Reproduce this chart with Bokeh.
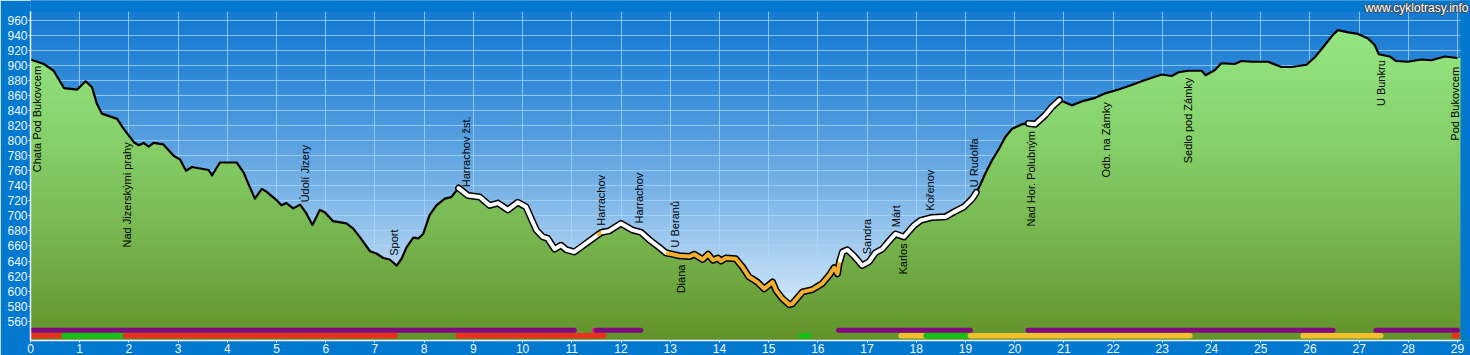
import numpy as np
from bokeh.plotting import figure
from bokeh.models import Range1d, FixedTicker
from bokeh.core.properties import value
from bokeh.embed import file_html
from bokeh.resources import INLINE

# ---------------- data ----------------
dist_km = [0, 0.27, 0.47, 0.57, 0.68, 0.95, 1.12, 1.25, 1.35, 1.45, 1.76, 1.89, 2.10, 2.2, 2.3, 2.4,
           2.5, 2.7, 2.91, 3.04, 3.16, 3.28, 3.45, 3.62, 3.69, 3.85, 4.19, 4.33, 4.4, 4.56, 4.7, 4.8,
           5.0, 5.1, 5.2, 5.34, 5.48, 5.61, 5.73, 5.88, 5.98, 6.15, 6.42, 6.56, 6.69, 6.9, 7.03, 7.17,
           7.3, 7.44, 7.54, 7.64, 7.78, 7.88, 7.98, 8.11, 8.25, 8.42, 8.55, 8.7, 8.89, 9.13, 9.33, 9.5,
           9.7, 9.9, 10.07, 10.28, 10.41, 10.51, 10.65, 10.78, 10.89, 11.05, 11.22, 11.43, 11.6, 11.76,
           12.0, 12.24, 12.41, 12.58, 12.78, 12.91, 13.18, 13.39, 13.49, 13.66, 13.77, 13.87, 13.97,
           14.03, 14.13, 14.33, 14.47, 14.6, 14.77, 14.91, 15.08, 15.15, 15.28, 15.42, 15.48, 15.69,
           15.89, 16.09, 16.23, 16.33, 16.4, 16.43, 16.5, 16.6, 16.73, 16.9, 17.04, 17.17, 17.31,
           17.44, 17.58, 17.75, 17.95, 18.09, 18.32, 18.6, 18.76, 18.97, 19.14, 19.21, 19.3, 19.4,
           19.54, 19.68, 19.81, 19.95, 20.15, 20.28, 20.42, 20.62, 20.76, 20.91, 21.16, 21.4, 21.64,
           21.84, 22.11, 22.38, 22.58, 22.85, 22.99, 23.19, 23.33, 23.53, 23.8, 23.88, 24.07, 24.2,
           24.47, 24.61, 24.81, 25.15, 25.42, 25.63, 25.93, 26.1, 26.3, 26.47, 26.57, 26.78, 26.98,
           27.18, 27.32, 27.4, 27.62, 27.75, 27.99, 28.26, 28.47, 28.74, 29.0]
elev_m = [908, 902, 893, 882, 870, 868, 879, 871, 849, 836, 829, 816, 798, 794, 797, 792,
          797, 795, 780, 775, 760, 765, 763, 761, 754, 771, 771, 758, 747, 723, 736, 732,
          721, 714, 717, 710, 715, 703, 688, 708, 705, 693, 690, 683, 672, 653, 650, 644,
          642, 634, 643, 658, 671, 670, 676, 701, 714, 723, 725, 737, 727, 725, 714, 717,
          708, 718, 712, 681, 672, 670, 656, 661, 655, 652, 660, 670, 678, 680,
          690, 681, 678, 668, 658, 651, 647, 646, 649, 642, 649, 641, 644,
          640, 644, 643, 632, 619, 612, 603, 612, 601, 590, 582, 583, 599,
          602, 610, 621, 631, 623, 636, 652, 655, 647, 634, 639, 651, 656,
          666, 676, 672, 687, 694, 698, 699, 705, 712, 723, 730, 741, 756,
          774, 789, 805, 816, 822, 823, 822, 834, 845, 854, 847, 853, 857,
          863, 868, 874, 879, 885, 888, 886, 891, 893, 893, 887, 894, 903,
          902, 906, 905, 905, 898, 898, 901, 911, 927, 941, 947, 944, 942,
          936, 927, 915, 912, 906, 905, 908, 907, 912, 910]

x_ticks = list(range(0, 30))
y_ticks = list(range(560, 961, 20))

place_names = ["Chata Pod Bukovcem", "Nad Jizerskými prahy", "Údolí Jizery", "Sport",
               "Harrachov žst.", "Harrachov", "Harrachov", "U Beranů", "Diana", "Sandra",
               "Márt", "Karlos", "Kořenov", "U Rudolfa", "Nad Hor. Polubným", "Odb. na Zámky",
               "Sedlo pod Zámky", "U Bunkru", "Pod Bukovcem"]
place_km = [0.14, 1.97, 5.58, 7.38, 8.86, 11.6, 12.37, 13.1, 13.22, 17.0,
            17.59, 17.73, 18.28, 19.17, 20.34, 21.85, 23.53, 27.44, 28.95]
place_label_base_m = [758, 658, 718, 647, 738, 687, 690, 658, 597, 649,
                      685, 622, 707, 738, 686, 751, 770, 846, 800]

# way type of the profile line (section start km, end km, type)
way_start = [0, 8.7, 11.55, 11.63, 12.95, 16.45, 19.22, 20.28, 20.91]
way_end = [8.7, 11.55, 11.63, 12.95, 16.45, 19.22, 20.28, 20.91, 29.0]
way_type = ["trail", "road", "busy", "road", "busy", "road", "trail", "road", "trail"]

# marked route (upper strip)
route_start = [0, 11.46, 11.5, 16.42, 20.27, 27.34]
route_end = [11.05, 11.5, 12.4, 19.1, 26.47, 29.0]
route_type = ["marked", "other", "marked", "marked", "marked", "marked"]

# surface (lower strip)
surf_start = [0, 0.68, 1.93, 8.69, 15.65, 17.69, 18.2, 19.1, 25.86, 28.93]
surf_end = [0.68, 1.93, 7.42, 11.65, 15.82, 18.2, 19.1, 23.56, 27.44, 29.0]
surf_type = ["asphalt", "gravel", "asphalt", "asphalt", "gravel", "forest", "gravel",
             "forest", "forest", "asphalt"]

site_name = "www.cyklotrasy.info"

# ---------------- styles ----------------
WAY_COLOR = {"road": "#ffffff", "busy": "#f2b02e"}
ROUTE_COLOR = {"marked": "#800a7e", "other": "#e8186a"}
SURF_COLOR = {"asphalt": "#e8321f", "gravel": "#14c014", "forest": "#f2c02c"}
FRAME_BLUE = "#0278ce"

PX_PER_KM = 49.2
PX_PER_M = 0.752
Y0, YTOP = 534.3, 971.8            # chart area (elevation)
X0, XEND = 0.0, 29.06              # chart area (distance)
Y1 = YTOP + 11 / PX_PER_M          # frame extended over the top border strip
X1 = XEND + 10 / PX_PER_KM         # frame extended over the right border strip

p = figure(width=1470, height=355, x_range=Range1d(X0, X1), y_range=Range1d(Y0, Y1),
           output_backend="svg", toolbar_location=None,
           min_border_left=30, min_border_right=0, min_border_top=0, min_border_bottom=15,
           border_fill_color=FRAME_BLUE, background_fill_color=FRAME_BLUE,
           outline_line_color=None)


def lerp(c0, c1, t):
    return tuple(int(round(a + (b - a) * t)) for a, b in zip(c0, c1))


def hexc(c):
    return "#%02x%02x%02x" % c


# sky gradient (under grid)
sky_tops = np.linspace(YTOP, Y0 + 2, 90)
sky_cols = []
for tp in sky_tops:
    t = (YTOP - (tp - 2.4)) / (YTOP - Y0)
    t = min(max(t, 0), 1) ** 1.3
    sky_cols.append(hexc(lerp((22, 122, 210), (242, 249, 255), t)))
p.quad(left=X0, right=XEND, bottom=Y0 - 5, top=list(sky_tops), fill_color=sky_cols,
       line_color=None, level="image")

# grid
p.xgrid.ticker = FixedTicker(ticks=x_ticks)
p.ygrid.ticker = FixedTicker(ticks=y_ticks)
for g in (p.xgrid, p.ygrid):
    g.grid_line_color = "#a8d8ff"
    g.grid_line_alpha = 0.75
    g.grid_line_width = 1

# green gradient fill under profile
x = np.array(dist_km, float)
e = np.array(elev_m, float)
band_tops = np.arange(962.0, Y0, -4.0)
xs = [x]
for L in band_tops:
    d = e - L
    idx = np.where(d[:-1] * d[1:] < 0)[0]
    if len(idx):
        xs.append(x[idx] + (L - e[idx]) / (e[idx + 1] - e[idx]) * (x[idx + 1] - x[idx]))
xx = np.unique(np.concatenate(xs))
ee = np.interp(xx, x, e)
xx = np.concatenate([xx, [XEND]])
ee = np.concatenate([ee, [e[-1]]])

green_stops = [(534.0, (98, 146, 42)), (650.0, (116, 176, 74)), (800.0, (134, 208, 106)),
               (972.0, (150, 234, 136))]


def green_at(y):
    for (ya, ca), (yb, cb) in zip(green_stops[:-1], green_stops[1:]):
        if ya <= y <= yb:
            return lerp(ca, cb, (y - ya) / (yb - ya))
    return green_stops[-1][1] if y > 900 else green_stops[0][1]


for L in band_tops:
    top = np.minimum(ee, L)
    p.varea(x=xx, y1=Y0 - 5, y2=top, fill_color=hexc(green_at(L - 2)))

# profile line
segs = []
for a, b, k in zip(way_start, way_end, way_type):
    inner = x[(x > a) & (x < b)]
    sx = np.concatenate([[a], inner, [b]])
    sy = np.interp(sx, x, e)
    segs.append((sx, sy, k))

for sx, sy, k in segs:
    if k != "trail":
        p.line(sx, sy, line_color="#000000", line_width=7, line_join="round", line_cap="round")
for sx, sy, k in segs:
    if k == "trail":
        p.line(sx, sy, line_color="#000000", line_width=2.2, line_join="round")
for sx, sy, k in segs:
    if k != "trail":
        p.line(sx, sy, line_color=WAY_COLOR[k], line_width=4, line_join="round", line_cap="round")

# strips
p.segment(x0=route_start, y0=547.8, x1=route_end, y1=547.8,
          line_color=[ROUTE_COLOR[t] for t in route_type], line_width=5, line_cap="round")
p.segment(x0=surf_start, y0=540.5, x1=surf_end, y1=540.5,
          line_color=[SURF_COLOR[t] for t in surf_type], line_width=5.5, line_cap="round")

# place labels
p.text(x=place_km, y=place_label_base_m, text=place_names, angle=np.pi / 2,
       text_align="left", text_baseline="middle", text_font=value("Liberation Sans"),
       text_font_size="11px", text_color="#000000")

# blue border strips (top and right) painted over the extended frame
p.quad(left=[X0 - 1, XEND], right=[X1 + 1, X1 + 1], bottom=[YTOP, Y0 - 10],
       top=[Y1 + 1, Y1 + 1], fill_color=FRAME_BLUE, line_color=None)

# axes
for ax in (p.xaxis, p.yaxis):
    ax.axis_line_color = "#e8f4ff"
    ax.axis_line_width = 1.5
    ax.major_tick_line_color = "#e8f4ff"
    ax.major_tick_in = 0
    ax.major_tick_out = 2
    ax.minor_tick_line_color = None
    ax.major_label_text_color = "#eef6ff"
    ax.major_label_text_font = "Liberation Sans"
    ax.major_label_text_font_size = "12px"
    ax.major_label_standoff = 1
p.xaxis.ticker = FixedTicker(ticks=x_ticks)
p.yaxis.ticker = FixedTicker(ticks=y_ticks)
p.xaxis.bounds = (X0, XEND)
p.yaxis.bounds = (Y0, YTOP)

# site name (white with thin dark outline) in the top border strip
site_x = XEND + 8 / PX_PER_KM
site_y = YTOP + 4 / PX_PER_M
for dx, dy in [(-1, 0), (1, 0), (0, -1), (0, 1)]:
    p.text(x=[site_x], y=[site_y], text=[site_name], x_offset=dx, y_offset=dy,
           text_align="right", text_baseline="middle", text_font=value("Liberation Sans"),
           text_font_size="12px", text_color="#474747")
p.text(x=[site_x], y=[site_y], text=[site_name], text_align="right", text_baseline="middle",
       text_font=value("Liberation Sans"), text_font_size="12px", text_color="#ffffff")

open("out.html", "w").write(file_html(p, INLINE))
